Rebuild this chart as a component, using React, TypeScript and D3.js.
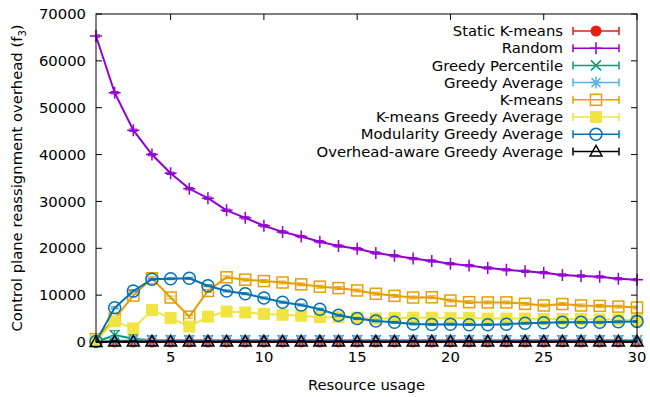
import { useEffect, useRef } from 'react';
import * as d3 from 'd3';

// resource usage values on the x axis
const usage = d3.range(1, 31);

const yTicks = [0, 10000, 20000, 30000, 40000, 50000, 60000, 70000];
const xTicks = [5, 10, 15, 20, 25, 30];

// series values (one per resource usage 1..30)
const staticKmeans = [0, 20, 20, 20, 20, 20, 20, 20, 20, 20, 20, 20, 20, 20, 20, 20, 20, 20, 20, 20, 20, 20, 20, 20, 20, 20, 20, 20, 20, 20];
const random = [65300, 53200, 45200, 40000, 36000, 32700, 30700, 28100, 26500, 24800, 23500, 22500, 21400, 20500, 19900, 19000, 18400, 17800, 17300, 16700, 16300, 15800, 15400, 15100, 14800, 14300, 14100, 13900, 13500, 13300];
const greedyPercentile = [0, 1500, 700, 400, 380, 380, 370, 370, 370, 370, 370, 370, 370, 370, 370, 370, 370, 370, 370, 370, 370, 370, 370, 370, 370, 370, 370, 370, 370, 370];
const greedyAverage = [0, 250, 300, 350, 350, 350, 350, 350, 350, 350, 350, 350, 350, 350, 350, 350, 350, 350, 350, 350, 350, 350, 350, 350, 350, 350, 350, 350, 350, 350];
const kmeans = [600, 5000, 9900, 13600, 9500, 5400, 10900, 13800, 13300, 13000, 12700, 12300, 11800, 11500, 11000, 10300, 9850, 9500, 9550, 8850, 8500, 8450, 8450, 8150, 7800, 8100, 7800, 7700, 7550, 7350];
const kmeansGreedy = [200, 4400, 2900, 6800, 5100, 3300, 5400, 6500, 6300, 6000, 5800, 5600, 5300, 5300, 5200, 5000, 5100, 5200, 5200, 5100, 5100, 5000, 5000, 5000, 4900, 4900, 4900, 4800, 4800, 4700];
const modularity = [100, 7300, 10900, 13400, 13500, 13600, 12000, 10900, 10300, 9400, 8500, 7900, 7000, 5700, 5000, 4500, 4200, 3850, 3750, 3800, 3700, 3700, 3800, 4000, 4100, 4200, 4200, 4200, 4300, 4400];
const overheadAware = [0, 100, 120, 120, 120, 120, 120, 120, 120, 120, 120, 120, 120, 120, 120, 120, 120, 120, 120, 120, 120, 120, 120, 120, 120, 120, 120, 120, 120, 120];

type Shape = 'dot' | 'plus' | 'cross' | 'star' | 'square' | 'box' | 'ring' | 'tri';

const series: { name: string; values: number[]; color: string; shape: Shape; err: number }[] = [
  { name: 'Static K-means', values: staticKmeans, color: '#e51e10', shape: 'dot', err: 1200 },
  { name: 'Random', values: random, color: '#9400d3', shape: 'plus', err: 250 },
  { name: 'Greedy Percentile', values: greedyPercentile, color: '#009e73', shape: 'cross', err: 900 },
  { name: 'Greedy Average', values: greedyAverage, color: '#56b4e9', shape: 'star', err: 900 },
  { name: 'K-means', values: kmeans, color: '#e69f00', shape: 'square', err: 300 },
  { name: 'K-means Greedy Average', values: kmeansGreedy, color: '#f0e442', shape: 'box', err: 300 },
  { name: 'Modularity Greedy Average', values: modularity, color: '#0072b2', shape: 'ring', err: 200 },
  { name: 'Overhead-aware Greedy Average', values: overheadAware, color: '#000000', shape: 'tri', err: 200 },
];

const W = 650, H = 397;
const left = 96, right = 637, top = 14, bottom = 342;
const FONT = 'DejaVu Sans, sans-serif';
const FS = 14.8;

// draw one point symbol centred at 0,0
function marker(g: any, shape: Shape, color: string) {
  if (shape === 'dot') g.append('circle').attr('r', 5.5).attr('fill', color);
  else if (shape === 'plus') g.append('path').attr('d', 'M-6,0H6M0,-6V6').attr('stroke', color).attr('stroke-width', 1.5);
  else if (shape === 'cross') g.append('path').attr('d', 'M-5,-5L5,5M-5,5L5,-5').attr('stroke', color).attr('stroke-width', 1.5);
  else if (shape === 'star') g.append('path').attr('d', 'M-6,0H6M0,-6V6M-4.5,-4.5L4.5,4.5M-4.5,4.5L4.5,-4.5').attr('stroke', color).attr('stroke-width', 1.5);
  else if (shape === 'square') g.append('rect').attr('x', -5.5).attr('y', -5.5).attr('width', 11).attr('height', 11).attr('fill', 'none').attr('stroke', color).attr('stroke-width', 1.5);
  else if (shape === 'box') g.append('rect').attr('x', -6).attr('y', -6).attr('width', 12).attr('height', 12).attr('fill', color);
  else if (shape === 'ring') g.append('circle').attr('r', 6).attr('fill', 'none').attr('stroke', color).attr('stroke-width', 1.5);
  else g.append('path').attr('d', 'M0,-6L6,4.5H-6Z').attr('fill', 'none').attr('stroke', color).attr('stroke-width', 1.5);
}

export default function App() {
  const ref = useRef<SVGSVGElement>(null);

  useEffect(() => {
    const svg = d3.select(ref.current);
    svg.selectAll('*').remove();

    const x = d3.scaleLinear().domain([1, 30]).range([left, right]);
    const y = d3.scaleLinear().domain([0, 70000]).range([bottom, top]);

    svg.append('defs').append('clipPath').attr('id', 'plotclip')
      .append('rect').attr('x', left).attr('y', top).attr('width', right - left).attr('height', bottom - top);

    // ticks, mirrored on the opposite side
    const axes = svg.append('g').attr('stroke', '#000').attr('stroke-width', 1);
    yTicks.forEach(t => {
      axes.append('line').attr('x1', left).attr('x2', left + 6).attr('y1', y(t)).attr('y2', y(t));
      axes.append('line').attr('x1', right).attr('x2', right - 6).attr('y1', y(t)).attr('y2', y(t));
    });
    xTicks.forEach(t => {
      axes.append('line').attr('x1', x(t)).attr('x2', x(t)).attr('y1', bottom).attr('y2', bottom - 6);
      axes.append('line').attr('x1', x(t)).attr('x2', x(t)).attr('y1', top).attr('y2', top + 6);
    });

    svg.append('g').selectAll('text').data(yTicks).join('text')
      .attr('x', 86).attr('y', d => y(d)).attr('dy', '0.35em').attr('text-anchor', 'end')
      .attr('font-family', FONT).attr('font-size', FS).text(d => d);
    svg.append('g').selectAll('text').data(xTicks).join('text')
      .attr('x', d => x(d)).attr('y', 362).attr('text-anchor', 'middle')
      .attr('font-family', FONT).attr('font-size', FS).text(d => d);

    svg.append('text').attr('x', (left + right) / 2).attr('y', 390).attr('text-anchor', 'middle')
      .attr('font-family', FONT).attr('font-size', FS).text('Resource usage');
    const yl = svg.append('text').attr('transform', `translate(22,${(top + bottom) / 2}) rotate(-90)`)
      .attr('text-anchor', 'middle').attr('font-family', FONT).attr('font-size', FS);
    yl.append('tspan').text('Control plane reassignment overhead (f');
    yl.append('tspan').attr('font-size', 10).attr('dy', 4).text('3');
    yl.append('tspan').attr('dy', -4).text(')');

    const line = d3.line<number>().x((_, i) => x(usage[i])).y(d => y(d));

    series.forEach(s => {
      const g = svg.append('g');
      const eb = g.append('g').attr('clip-path', 'url(#plotclip)').attr('stroke', s.color).attr('stroke-width', 1);
      s.values.forEach((v, i) => {
        const px = x(usage[i]);
        const y0 = y(v - s.err), y1 = y(v + s.err);
        eb.append('line').attr('x1', px).attr('x2', px).attr('y1', y0).attr('y2', y1);
        eb.append('line').attr('x1', px - 4).attr('x2', px + 4).attr('y1', y0).attr('y2', y0);
        eb.append('line').attr('x1', px - 4).attr('x2', px + 4).attr('y1', y1).attr('y2', y1);
      });
      g.append('path').attr('d', line(s.values)).attr('fill', 'none')
        .attr('stroke', s.color).attr('stroke-width', 2);
      s.values.forEach((v, i) => {
        marker(g.append('g').attr('transform', `translate(${x(usage[i])},${y(v)})`), s.shape, s.color);
      });
    });

    // legend
    const lg = svg.append('g');
    series.forEach((s, i) => {
      const ry = 31 + i * 17.2;
      lg.append('text').attr('x', 563).attr('y', ry).attr('dy', '0.35em').attr('text-anchor', 'end')
        .attr('font-family', FONT).attr('font-size', FS).text(s.name);
      lg.append('path').attr('d', `M573,${ry}H619M573,${ry - 4}V${ry + 4}M619,${ry - 4}V${ry + 4}`)
        .attr('stroke', s.color).attr('stroke-width', 1.5).attr('fill', 'none');
      marker(lg.append('g').attr('transform', `translate(596,${ry})`), s.shape, s.color);
    });

    svg.append('rect').attr('x', left).attr('y', top).attr('width', right - left).attr('height', bottom - top)
      .attr('fill', 'none').attr('stroke', '#000').attr('stroke-width', 1);
  }, []);

  return (
    <svg ref={ref} width={W} height={H} style={{ position: 'absolute', left: 0, top: 0, background: '#fff' }} />
  );
}
